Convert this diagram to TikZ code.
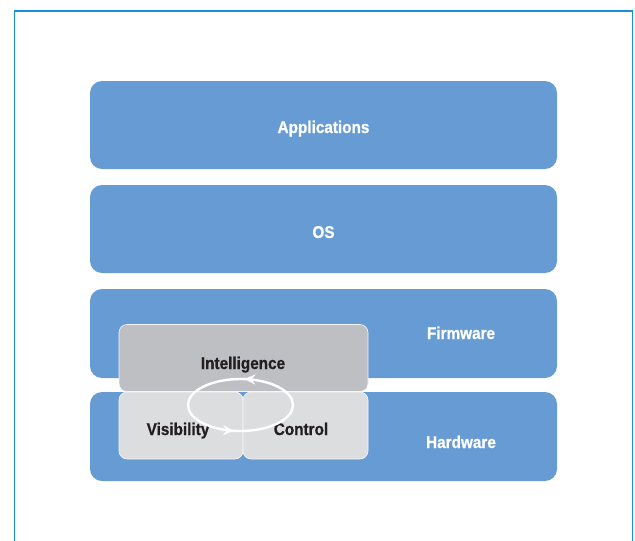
\documentclass[tikz,border=0pt]{standalone}
\usepackage{fontspec}
\setmainfont{Liberation Sans}[FakeStretch=0.9, BoldFeatures={FakeBold=0.8}]
\usetikzlibrary{arrows.meta,decorations.markings}
\definecolor{layerblue}{RGB}{103,155,211}
\definecolor{framblue}{RGB}{20,145,215}
\definecolor{graydark}{RGB}{190,191,194}
\definecolor{graylight}{RGB}{220,221,223}
\definecolor{inkdark}{RGB}{35,31,32}
\tikzset{
  layer/.style={fill=layerblue, rounded corners=12pt, minimum width=467pt, minimum height=88pt, inner sep=0pt},
  graybox/.style={rounded corners=8pt, draw=white!75!graylight, line width=0.6pt, inner sep=0pt},
  lbl/.style={font=\fontsize{17}{19}\selectfont\bfseries, inner sep=0pt, anchor=base},
}
\begin{document}
\begin{tikzpicture}[x=1pt, y=-1pt]
    \useasboundingbox (0,0) rectangle (635,541);
    \fill[white] (0,0) rectangle (635,541);
    \draw[framblue, line width=1.2pt] (14.5,545) -- (14.5,11) -- (632.5,11) -- (632.5,545);
    \node[layer] (apps) at (323.5,125) {};
    \node[layer] (os) at (323.5,229) {};
    \node[layer, minimum height=89pt] (fw) at (323.5,333.5) {};
    \node[layer, minimum height=89pt] (hw) at (323.5,436.5) {};
    \node[lbl, white] (appstext) at (323.5,133) {Applications};
    \node[lbl, white] (ostext) at (323.5,238) {OS};
    \node[lbl, white] (fwtext) at (461,339) {Firmware};
    \node[lbl, white] (hwtext) at (461,448) {Hardware};
    \node[graybox, fill=graydark, minimum width=249pt, minimum height=67pt] (intel) at (243.5,358) {};
    \node[graybox, fill=graylight, minimum width=124pt, minimum height=67pt] (vis) at (181,425.5) {};
    \node[graybox, fill=graylight, minimum width=125pt, minimum height=67pt] (ctrl) at (305.5,425.5) {};
    \node[lbl, inkdark] (inteltext) at (243,369) {Intelligence};
    \node[lbl, inkdark] (vistext) at (178,435) {Visibility};
    \node[lbl, inkdark] (ctrltext) at (301,435) {Control};
    \draw[white, line width=2.4pt,
      decoration={markings,
        mark=at position 0.235 with {\arrow{Stealth[length=11pt,width=10pt,inset=3.5pt]}},
        mark=at position 0.725 with {\arrow{Stealth[length=11pt,width=10pt,inset=3.5pt]}}},
      postaction={decorate}]
      (293,405) arc[start angle=0, end angle=-360, x radius=52.5, y radius=26];
\end{tikzpicture}
\end{document}
